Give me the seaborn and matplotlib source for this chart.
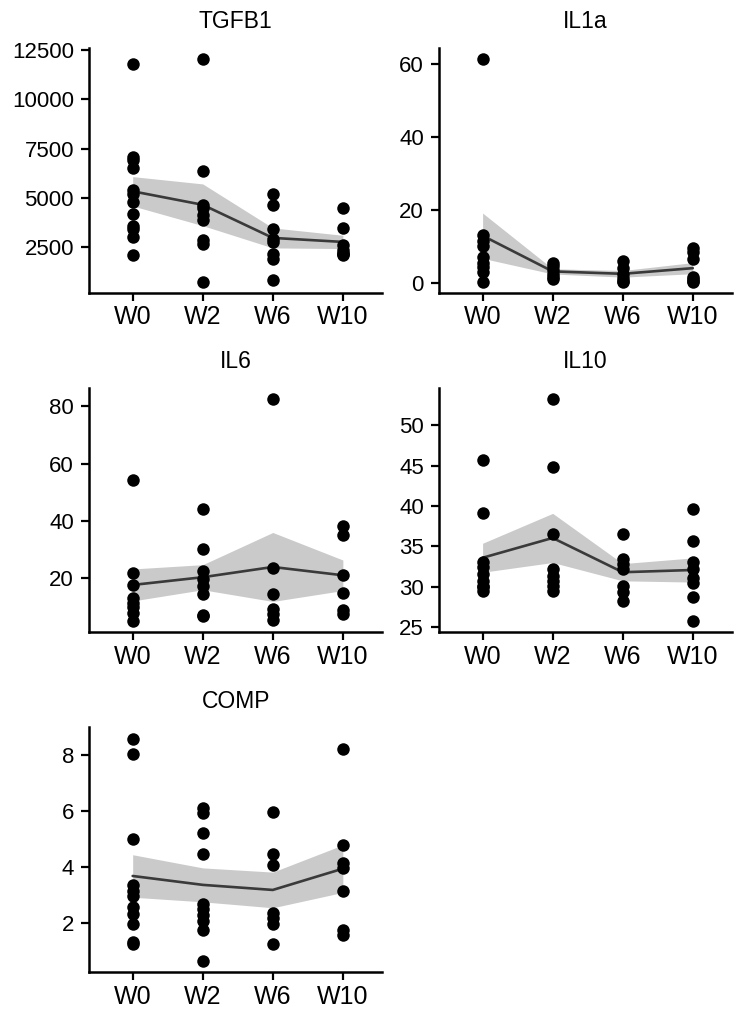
import pandas as pd
import matplotlib
matplotlib.use('Agg')
import matplotlib.pyplot as plt
import seaborn as sns
from matplotlib.ticker import MultipleLocator


weeks = ['W0', 'W2', 'W6', 'W10']

tgfb1_w0 = [11800, 7100, 6950, 6500, 5400, 5200, 4800, 4200, 3600, 3400, 3000, 2100]
tgfb1_w2 = [12050, 6350, 4650, 4480, 4150, 3890, 2870, 2670, 760]
tgfb1_w6 = [5200, 4650, 3400, 2900, 2750, 2150, 1900, 830]
tgfb1_w10 = [4480, 3470, 2620, 2360, 2200, 2150, 2100]

il1a_w0 = [61.5, 13, 11.5, 10, 7, 5.5, 4.3, 3, 0.3]
il1a_w2 = [5.5, 4.5, 3.5, 2.5, 1.5, 1.0]
il1a_w6 = [6, 4, 2.5, 1.2, 0.5, 0.3]
il1a_w10 = [9.5, 8.5, 6.5, 1.5, 1.0, 0.5, 0.3]

il6_w0 = [54.5, 22, 17.5, 13, 11.5, 10, 8, 5]
il6_w2 = [44.3, 30.3, 22.6, 19.9, 17.2, 14.7, 7.1, 7.0]
il6_w6 = [82.7, 23.7, 14.7, 9.4, 7.7, 5.6]
il6_w10 = [38.1, 35.3, 21.3, 14.9, 9.1, 7.7]

il10_w0 = [45.7, 39.1, 33.1, 32.4, 31.6, 30.7, 30.1, 30.0, 29.5]
il10_w2 = [53.3, 44.8, 36.5, 32.2, 31.3, 30.7, 30.1, 29.4]
il10_w6 = [36.5, 33.4, 32.8, 32.2, 30.1, 29.3, 28.2]
il10_w10 = [39.6, 35.6, 33.1, 32.2, 31.1, 30.5, 28.7, 25.7]

comp_w0 = [8.6, 8.05, 5.0, 3.35, 3.15, 2.95, 2.55, 2.3, 1.95, 1.3, 1.25]
comp_w2 = [6.12, 5.94, 5.22, 4.48, 2.66, 2.48, 2.27, 2.06, 1.73, 0.63]
comp_w6 = [5.96, 4.47, 4.08, 2.36, 2.18, 1.94, 1.25]
comp_w10 = [8.24, 4.77, 4.15, 3.97, 3.13, 1.73, 1.58]

markers = {
    'TGFB1': [tgfb1_w0, tgfb1_w2, tgfb1_w6, tgfb1_w10],
    'IL1a': [il1a_w0, il1a_w2, il1a_w6, il1a_w10],
    'IL6': [il6_w0, il6_w2, il6_w6, il6_w10],
    'IL10': [il10_w0, il10_w2, il10_w6, il10_w10],
    'COMP': [comp_w0, comp_w2, comp_w6, comp_w10],
}
tick_steps = {'TGFB1': 2500, 'IL1a': 20, 'IL6': 20, 'IL10': 5, 'COMP': 2}


def to_long(groups):
    rows = []
    for i, (week, vals) in enumerate(zip(weeks, groups)):
        for v in vals:
            rows.append({'week': week, 'pos': i, 'value': v})
    return pd.DataFrame(rows)


def plot_panel(ax, name, df):
    sns.stripplot(data=df, x='week', y='value', order=weeks, jitter=False,
                  color='black', size=9, linewidth=0, ax=ax)
    n_before = len(ax.collections)
    sns.lineplot(data=df, x='pos', y='value', errorbar='se', color='#3a3a3a',
                 linewidth=1.9, err_kws={'linewidth': 0}, ax=ax)
    # band drawn above the dots, light gray and half transparent
    for coll in ax.collections[n_before:]:
        coll.set_facecolor('#8a8a8a')
        coll.set_alpha(0.45)

    ax.set_xlim(-0.62, 3.56)
    ax.set_xticks(range(len(weeks)))
    ax.set_xticklabels(weeks)
    ax.yaxis.set_major_locator(MultipleLocator(tick_steps[name]))
    ax.set_xlabel('')
    ax.set_ylabel('')
    ax.set_title(name, fontsize=16.5, pad=14)
    ax.tick_params(axis='y', labelsize=16, length=6, width=1.6, pad=5)
    ax.tick_params(axis='x', labelsize=18, length=6, width=1.6, pad=3)
    for side in ['left', 'bottom']:
        ax.spines[side].set_linewidth(1.8)
    sns.despine(ax=ax)


def main():
    sns.set_style('ticks')
    plt.rcParams['font.family'] = ['Liberation Sans', 'DejaVu Sans']
    plt.rcParams.update({
        'text.color': 'black',
        'axes.edgecolor': 'black',
        'axes.labelcolor': 'black',
        'xtick.color': 'black',
        'ytick.color': 'black',
    })

    fig, axes = plt.subplots(3, 2, figsize=(7.5, 10.18), dpi=100)
    fig.subplots_adjust(left=0.119, right=0.976, top=0.953, bottom=0.045,
                        wspace=0.195, hspace=0.388)

    for ax, name in zip(axes.flat, markers):
        plot_panel(ax, name, to_long(markers[name]))
    axes.flat[-1].axis('off')

    fig.savefig('out.png', dpi=100)


if __name__ == '__main__':
    main()
